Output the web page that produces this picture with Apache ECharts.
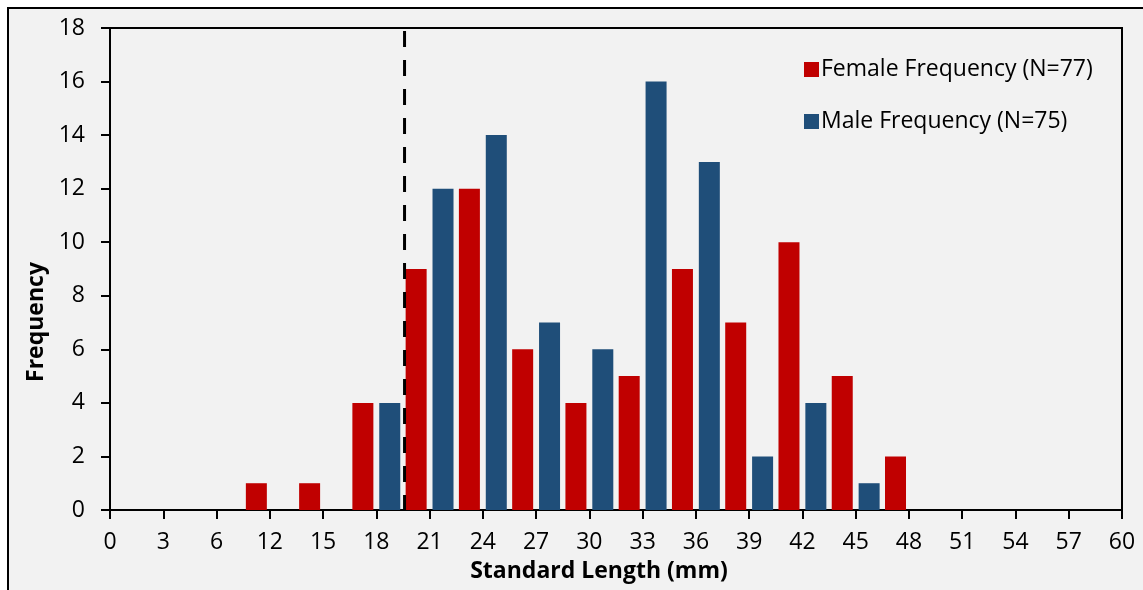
<!DOCTYPE html>
<html>
<head>
<meta charset="utf-8">
<script src="https://cdn.jsdelivr.net/npm/echarts@6/dist/echarts.min.js"></script>
<style>
html,body{margin:0;padding:0;background:#fff;}
#chart{width:1143px;height:590px;}
</style>
</head>
<body>
<div id="chart"></div>
<script>
// Data
const categories = ['0','3','6','12','15','18','21','24','27','30','33','36','39','42','45','48','51','54','57','60'];
const femaleFreq = [0,0,0,1,1,4,9,12,6,4,5,9,7,10,5,2,0,0,0,0];
const maleFreq   = [0,0,0,0,0,4,12,14,7,6,16,13,2,4,1,0,0,0,0,0];
const yTicks = { min: 0, max: 18, interval: 2 };
const cutoffPosition = 5.53; // in category-index units along the x axis
const femaleName = 'Female Frequency (N=77)';
const maleName = 'Male Frequency (N=75)';

const FONT = '"Open Sans", Lato, sans-serif';
const chart = echarts.init(document.getElementById('chart'), null, {renderer:'canvas'});
chart.setOption({
  backgroundColor: '#ffffff',
  animation: false,
  graphic: [{
    type: 'rect', z: -10, silent: true,
    shape: { x: 8, y: 8, width: 1160, height: 620 },
    style: { fill: '#F2F2F2', stroke: '#000', lineWidth: 2 }
  }],
  grid: { left: 110, right: 21, top: 28, bottom: 80, show: true, borderColor: '#000', borderWidth: 2, backgroundColor: 'transparent' },
  legend: {
    orient: 'vertical', left: 799, top: 53, itemWidth: 15, itemHeight: 15, itemGap: 29,
    icon: 'rect',
    textStyle: { fontFamily: FONT, fontSize: 23, color: '#000', padding: [0,0,0,-3] },
    data: [femaleName, maleName]
  },
  xAxis: [{
    type: 'category', data: categories, boundaryGap: false,
    axisLine: { lineStyle: { color: '#000', width: 2 } },
    axisTick: { show: true, inside: false, length: 9, alignWithLabel: true, lineStyle: { color: '#000', width: 2 } },
    axisLabel: { fontFamily: FONT, fontSize: 23, color: '#000', margin: 21, interval: 0 },
    splitLine: { show: false },
    name: 'Standard Length (mm)', nameLocation: 'middle', nameGap: 50,
    nameTextStyle: { fontFamily: FONT, fontSize: 23, fontWeight: 'bold', color: '#000', padding: [0, 34, 0, 0] }
  }, {
    type: 'value', min: 0, max: categories.length - 1, show: false
  }],
  yAxis: [{
    type: 'value', min: yTicks.min, max: yTicks.max, interval: yTicks.interval,
    axisLine: { show: true, lineStyle: { color: '#000', width: 2 } },
    axisTick: { show: true, length: 9, lineStyle: { color: '#000', width: 2 } },
    axisLabel: { fontFamily: FONT, fontSize: 23, color: '#000', margin: 25 },
    splitLine: { show: false },
    name: 'Frequency', nameLocation: 'middle', nameGap: 55, nameRotate: 90,
    nameTextStyle: { fontFamily: FONT, fontSize: 23, fontWeight: 'bold', color: '#000', padding: [0, 106, 0, 0] }
  }],
  series: [{
    name: femaleName, type: 'bar', data: femaleFreq, barWidth: 21, barGap: '28%',
    itemStyle: { color: '#C00000' }
  }, {
    name: maleName, type: 'bar', data: maleFreq, barWidth: 21, barGap: '28%',
    itemStyle: { color: '#1F4E79' }
  }, {
    name: 'cutoff', type: 'line', xAxisIndex: 1, symbol: 'none', silent: true,
    data: [[cutoffPosition, yTicks.max], [cutoffPosition, yTicks.min]],
    lineStyle: { color: '#000', width: 3, type: [16, 13], dashOffset: -3 },
    z: 5
  }]
});
</script>
</body>
</html>
